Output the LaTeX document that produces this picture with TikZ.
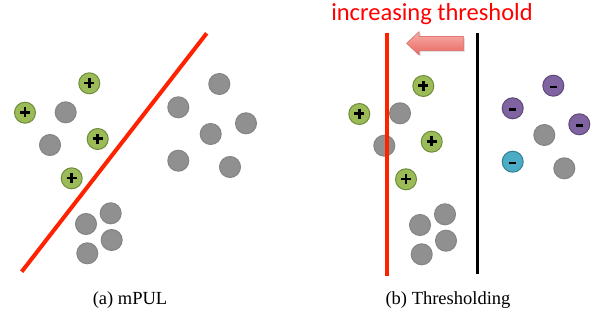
\documentclass[tikz,border=0pt]{standalone}
\usepackage{fontspec}
\setmainfont{Liberation Serif}
\newfontfamily\labelfont{Carlito}
\usetikzlibrary{shadows}

\definecolor{ptgreen}{HTML}{9BBB59}
\definecolor{ptgreenline}{HTML}{6F8C3B}
\definecolor{ptpurple}{HTML}{8064A2}
\definecolor{ptpurpleline}{HTML}{5D4879}
\definecolor{ptcyan}{HTML}{4BACC6}
\definecolor{ptcyanline}{HTML}{347F93}
\definecolor{ptgray}{HTML}{909090}
\definecolor{boundary}{HTML}{FF2200}
\definecolor{arrowtop}{HTML}{F7B0AA}
\definecolor{arrowbot}{HTML}{E8665E}
\definecolor{arrowline}{HTML}{E07A73}

\tikzset{
  dotbase/.style={circle, minimum size=21pt, inner sep=0pt, line width=1pt},
  unldot/.style={dotbase, fill=ptgray, draw=ptgray!92!black},
  posdot/.style={dotbase, fill=ptgreen, draw=ptgreenline,
    path picture={\draw[line width=2.6pt, black]
      (path picture bounding box.center) ++(-5pt,0.3pt) -- ++(10pt,0)
      (path picture bounding box.center) ++(0,-4.7pt) -- ++(0,10pt);}},
  negsign/.style={path picture={\draw[line width=2.6pt, black]
      (path picture bounding box.center) ++(-3.5pt,-1.2pt) -- ++(7pt,0);}},
  negdot/.style={dotbase, fill=ptpurple, draw=ptpurpleline, negsign},
  negcdot/.style={dotbase, fill=ptcyan, draw=ptcyanline, negsign},
  captionstyle/.style={font=\fontsize{18.5}{22}\selectfont},
}

\begin{document}
\begin{tikzpicture}[x=1pt, y=-1pt]
\useasboundingbox (0,0) rectangle (602,323);

% ---------- (a) mPUL ----------
\node[unldot] (a1) at (65.7,112.3) {};
\node[unldot] (a2) at (50,145) {};
\node[unldot] (a3) at (178.3,107.3) {};
\node[unldot] (a4) at (219.3,84) {};
\node[unldot] (a5) at (210.7,134) {};
\node[unldot] (a6) at (246,123.3) {};
\node[unldot] (a7) at (178.3,160.7) {};
\node[unldot] (a8) at (230,167) {};
\node[unldot] (a9) at (110.7,213.3) {};
\node[unldot] (a10) at (86,224) {};
\node[unldot] (a11) at (111.7,240) {};
\node[unldot] (a12) at (87.3,253.3) {};
\node[posdot] (ap1) at (89.3,83.3) {};
\node[posdot] (ap2) at (25,112.7) {};
\node[posdot] (ap3) at (97.7,139) {};
\node[posdot] (ap4) at (71.7,178.3) {};

\coordinate (la) at (21.7,271.7);
\coordinate (lb) at (206.7,33.3);
\draw[boundary, line width=4pt] (la) -- (lb);

\node[captionstyle] (capa) at (130,300) {(a) mPUL};

% ---------- (b) Thresholding ----------
\node[text=red, font=\labelfont\fontsize{24.5}{28}\selectfont] (title) at (432,14) {increasing threshold};

\node[unldot] (b1) at (400,113.3) {};
\node[unldot] (b2) at (384.3,145.7) {};
\node[unldot] (b3) at (420,225) {};
\node[unldot] (b4) at (445,214.3) {};
\node[unldot] (b5) at (446,240.7) {};
\node[unldot] (b6) at (421.7,254.3) {};
\node[unldot] (b7) at (544.3,135) {};
\node[unldot] (b8) at (564.3,168.3) {};
\node[posdot] (bp1) at (423.3,86) {};
\node[posdot] (bp2) at (359.3,114) {};
\node[posdot] (bp3) at (431.7,141.7) {};
\node[posdot] (bp4) at (406,179.3) {};
\node[negdot] (bn1) at (553.3,85.7) {};
\node[negdot] (bn2) at (512.7,108.3) {};
\node[negdot] (bn3) at (579.3,124.3) {};
\node[negcdot] (bn4) at (512.7,161.7) {};

\coordinate (rt) at (387.3,33.3);
\coordinate (rb) at (387.3,276);
\draw[boundary, line width=4pt] (rt) -- (rb);
\coordinate (kt) at (477.7,33.3);
\coordinate (kb) at (477.7,274);
\draw[black, line width=3pt] (kt) -- (kb);

% block arrow pointing towards the lower threshold
\filldraw[draw=arrowline, line width=0.6pt, top color=arrowtop, bottom color=arrowbot,
  drop shadow={shadow xshift=1.5pt, shadow yshift=-1.5pt, opacity=0.25}]
  (406.7,43.3) -- (419,31.8) -- (419,36.5) -- (463.3,36.5) -- (463.3,50.5)
  -- (419,50.5) -- (419,55) -- cycle;

\node[captionstyle] (capb) at (448,300) {(b) Thresholding};
\end{tikzpicture}
\end{document}
